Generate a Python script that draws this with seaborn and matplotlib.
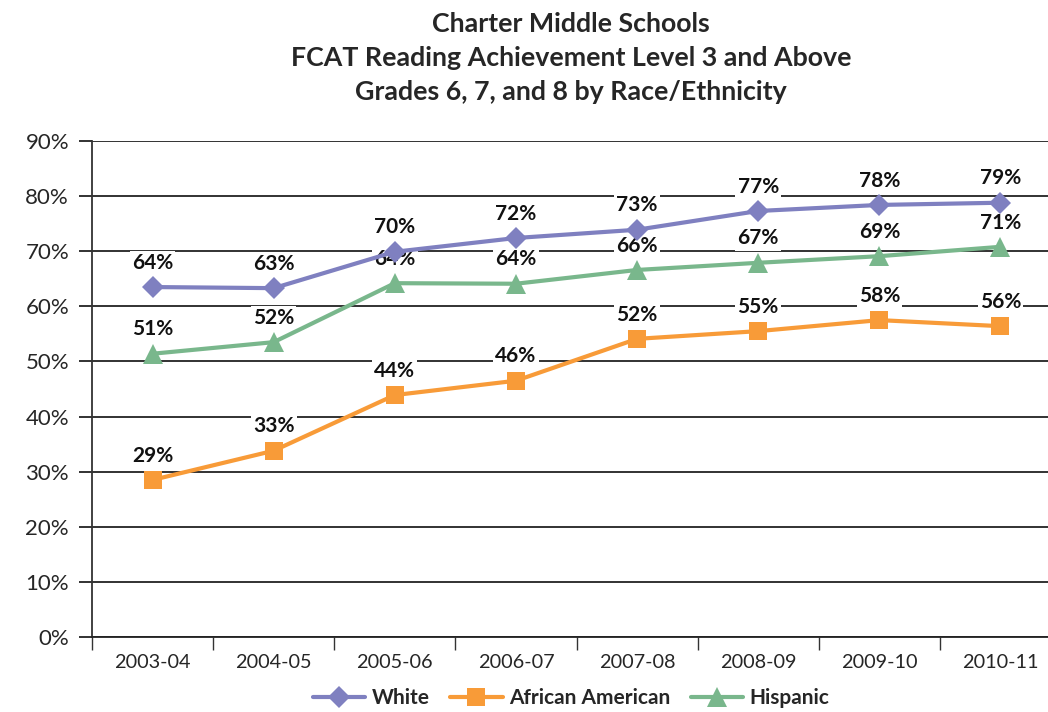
import matplotlib
matplotlib.use("Agg")
import matplotlib.pyplot as plt
import seaborn as sns
import pandas as pd
from matplotlib.ticker import MultipleLocator, FuncFormatter, FixedLocator

years = ["2003-04", "2004-05", "2005-06", "2006-07", "2007-08", "2008-09", "2009-10", "2010-11"]
white = [63.5, 63.3, 69.9, 72.4, 73.9, 77.3, 78.4, 78.8]
african_american = [28.5, 33.8, 43.9, 46.5, 54.1, 55.5, 57.5, 56.4]
hispanic = [51.4, 53.5, 64.2, 64.1, 66.6, 67.9, 69.1, 70.8]
white_labels = ["64%", "63%", "70%", "72%", "73%", "77%", "78%", "79%"]
aa_labels = ["29%", "33%", "44%", "46%", "52%", "55%", "58%", "56%"]
hisp_labels = ["51%", "52%", "64%", "64%", "66%", "67%", "69%", "71%"]
groups = ["White", "African American", "Hispanic"]
title_lines = ["Charter Middle Schools",
               "FCAT Reading Achievement Level 3 and Above",
               "Grades 6, 7, and 8 by Race/Ethnicity"]

colors = {"White": "#7F80C0", "African American": "#F89B38", "Hispanic": "#79B78C"}
markers = {"White": "D", "African American": "s", "Hispanic": "^"}
msizes = {"White": 11, "African American": 13, "Hispanic": 15}

series = {"White": white, "African American": african_american, "Hispanic": hispanic}
labels = {"White": white_labels, "African American": aa_labels, "Hispanic": hisp_labels}

rows = []
for g in groups:
    for y, v in zip(years, series[g]):
        rows.append({"Year": y, "Value": v, "Group": g})
df = pd.DataFrame(rows)

sns.set_theme(style="white")
plt.rcParams["font.family"] = ["Lato", "DejaVu Sans"]

fig = plt.figure(figsize=(10.48, 7.12), dpi=100)
ax = fig.add_axes([92 / 1048, 1 - 637 / 712, 969 / 1048, 496 / 712])

for g in groups:
    sub = df[df["Group"] == g]
    sns.lineplot(data=sub, x="Year", y="Value", ax=ax, color=colors[g], marker=markers[g],
                 markersize=msizes[g], markeredgewidth=0, linewidth=3, sort=False,
                 label=g, zorder=4)

for g in groups:
    for i, (v, t) in enumerate(zip(series[g], labels[g])):
        ax.annotate(t, (i, v), xytext=(0, 17.5), textcoords="offset points",
                    ha="center", va="center", fontsize=15, fontweight="bold", color="#111111",
                    bbox=dict(boxstyle="square,pad=0.1", fc="white", ec="none"), zorder=3)

ax.set_xlim(-0.5, len(years) - 0.5)
ax.set_ylim(0, 90)
ax.yaxis.set_major_locator(MultipleLocator(10))
ax.yaxis.set_major_formatter(FuncFormatter(lambda v, p: f"{v:.0f}%"))
ax.grid(axis="y", color="#222222", linewidth=1.3, zorder=1)
ax.grid(axis="x", visible=False)
ax.set_axisbelow(True)
for s in ["top", "right"]:
    ax.spines[s].set_visible(False)
ax.spines["left"].set_color("#333333")
ax.spines["left"].set_linewidth(1.3)
ax.spines["bottom"].set_color("#222222")
ax.spines["bottom"].set_linewidth(1.3)

ax.set_xticks(range(len(years)))
ax.set_xticklabels(years, fontsize=14.3)
ax.tick_params(axis="x", which="major", length=0, pad=12)
ax.xaxis.set_minor_locator(FixedLocator([i - 0.5 for i in range(len(years) + 1)]))
ax.tick_params(axis="x", which="minor", length=9, width=1, color="#333333", direction="out", bottom=True)
ax.tick_params(axis="y", length=9.5, width=1.3, color="#222222", labelsize=16, pad=7, left=True)
ax.set_xlabel("")
ax.set_ylabel("")

fig.text(0.545, 1 - 58 / 712, "\n".join(title_lines), ha="center", va="center",
         fontsize=19.3, fontweight="bold", linespacing=1.5)

ax.legend(loc="center", bbox_to_anchor=(0.545, 1 - 698 / 712), bbox_transform=fig.transFigure,
          ncol=3, frameon=False, prop={"weight": "bold", "size": 15}, handlelength=2.5,
          columnspacing=1.0, handletextpad=0.3)

fig.savefig("out.png", dpi=100)
